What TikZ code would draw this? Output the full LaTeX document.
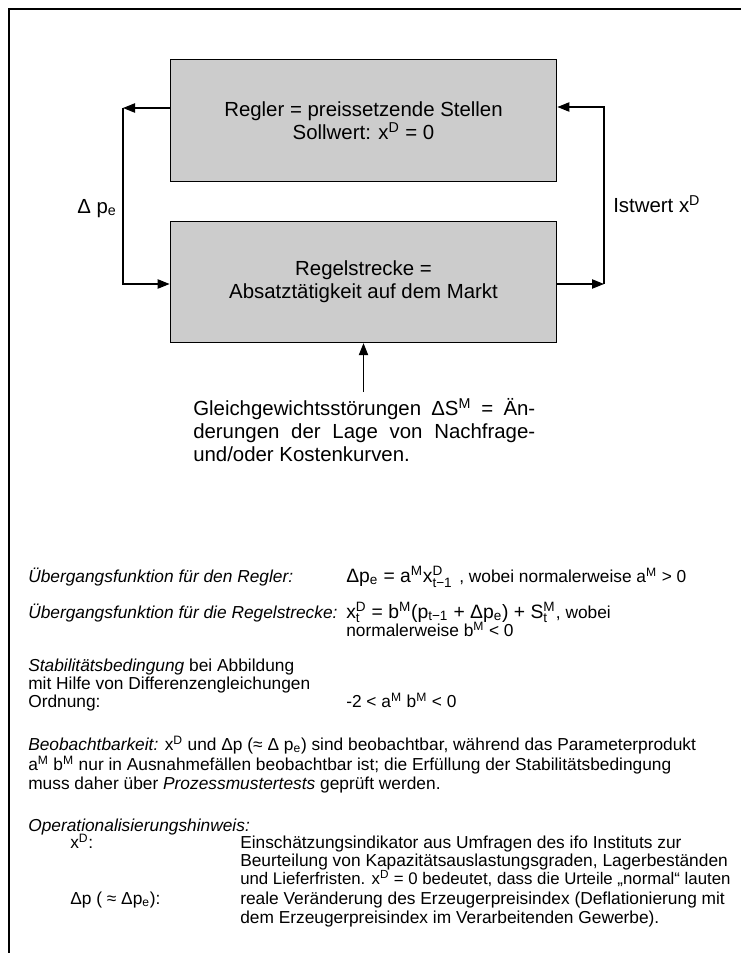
\documentclass[tikz,border=0pt]{standalone}
\usepackage{amsmath}
\usepackage{fontspec}
\setmainfont{Liberation Sans}
\usetikzlibrary{positioning,arrows.meta}
\newcommand{\fignorm}{\fontsize{13}{14.6}\selectfont}
\newcommand{\figbig}{\fontsize{15.3}{17.3}\selectfont}
\newcommand{\figmath}{\fontsize{14.5}{16}\selectfont}
\newcommand{\hoch}[1]{\ensuremath{^{\text{#1}}}}
\newcommand{\tief}[1]{\ensuremath{_{\text{#1}}}}
\newcommand{\hochtief}[2]{\ensuremath{^{\text{#1}}_{\text{#2}}}}
\tikzset{
  figbox/.style={draw, line width=0.8pt, fill=black!20, align=center, font=\figbig,
    minimum width=290pt, minimum height=91pt, inner sep=0pt},
  figarrow/.style={-{Triangle[length=9pt,width=7pt]}, line width=0.8pt},
  figline/.style={anchor=base west, inner sep=0pt, font=\fignorm},
  figlabel/.style={anchor=base west, inner sep=0pt, font=\figbig},
}

\begin{document}
\begin{tikzpicture}[x=0.75pt, y=-0.75pt]
  \useasboundingbox (0,0) rectangle (741,953);
  % Rahmen
  \draw[line width=1pt] (9,953) -- (9,9) -- (741,9);
  % Regelkreis
  \node[figbox] (regler) at (363.5,120.5) {Regler = preissetzende Stellen\\Sollwert: x\hoch{D} = 0};
  \node[figbox] (strecke) at (363.5,282) {Regelstrecke =\\Absatztätigkeit auf dem Markt};
  \coordinate (lt) at (123,108);
  \coordinate (lb) at (123,284);
  \coordinate (rt) at (604,107);
  \coordinate (rb) at (604,284);
  \draw[figarrow] (regler.west |- lt) -- (lt);
  \draw[figarrow] (lt) -- (lb) -- (strecke.west |- lb);
  \draw[figarrow] (strecke.east |- rb) -- (rb);
  \draw[figarrow] (rb) -- (rt) -- (regler.east |- rt);
  \node[figlabel] (dpe) at (77,213) {Δ p\tief{e}};
  \node[figlabel] (ist) at (613,212) {Istwert x\hoch{D}};
  % Stoergroesse
  \coordinate (stoer) at (363.5,392);
  \draw[figarrow] (stoer) -- (strecke.south);
  \node[anchor=north west, inner sep=0pt, text width=256.5pt, align=justify, font=\figbig]
    (gleich) at (193,398) {Gleichgewichtsstörungen ΔS\hoch{M} = Än-\linebreak
    derungen der Lage von Nachfrage-\linebreak und/oder Kostenkurven.};
  % Uebergangsfunktionen
  \node[figline] (ue1) at (28,582) {\textit{Übergangsfunktion für den Regler:}};
  \node[figline, font=\figmath] (f1) at (346,582) {Δp\tief{e} = a\hoch{M}x\hochtief{D}{t−1}};
  \node[figline] (w1) at (459,582) {, wobei normalerweise a\textsuperscript{M} > 0};
  \node[figline] (ue2) at (28,618) {\textit{Übergangsfunktion für die Regelstrecke:}};
  \node[figline, font=\figmath] (f2) at (346,618) {x\hochtief{D}{t} = b\hoch{M}(p\tief{t−1} + Δp\tief{e}) + S\hochtief{M}{t}};
  \node[figline] (w2) at (f2.base east) {, wobei};
  \node[figline] (n2) at (346,636) {normalerweise b\textsuperscript{M} < 0};
  % Stabilitaet
  \node[figline] (stab1) at (28,671) {\textit{Stabilitätsbedingung} bei Abbildung};
  \node[figline] (stab2) at (28,689) {mit Hilfe von Differenzengleichungen};
  \node[figline] (stab3) at (28,707) {Ordnung:};
  \node[figline] (stab4) at (346,707) {-2 < a\textsuperscript{M} b\textsuperscript{M} < 0};
  % Beobachtbarkeit
  \node[figline] (beob1) at (28,750) {\textit{Beobachtbarkeit:} x\textsuperscript{D} und Δp (≈ Δ p\textsubscript{e}) sind beobachtbar, während das Parameterprodukt};
  \node[figline] (beob2) at (28,770) {a\textsuperscript{M} b\textsuperscript{M} nur in Ausnahmefällen beobachtbar ist; die Erfüllung der Stabilitätsbedingung};
  \node[figline] (beob3) at (28,789) {muss daher über \textit{Prozessmustertests} geprüft werden.};
  % Operationalisierung
  \node[figline] (op) at (28,831) {\textit{Operationalisierungshinweis:}};
  \node[figline] (xd) at (70,848) {x\textsuperscript{D}:};
  \node[figline] (xd1) at (240,848) {Einschätzungsindikator aus Umfragen des ifo Instituts zur};
  \node[figline] (xd2) at (240,866) {Beurteilung von Kapazitätsauslastungsgraden, Lagerbeständen};
  \node[figline, font=\fontsize{12.6}{14}\selectfont] (xd3) at (240,884) {und Lieferfristen. x\textsuperscript{D} = 0 bedeutet, dass die Urteile „normal“ lauten};
  \node[figline] (dp) at (70,904) {Δp ( ≈ Δp\textsubscript{e}):};
  \node[figline] (dp1) at (240,904) {reale Veränderung des Erzeugerpreisindex (Deflationierung mit};
  \node[figline] (dp2) at (240,923) {dem Erzeugerpreisindex im Verarbeitenden Gewerbe).};
\end{tikzpicture}
\end{document}
